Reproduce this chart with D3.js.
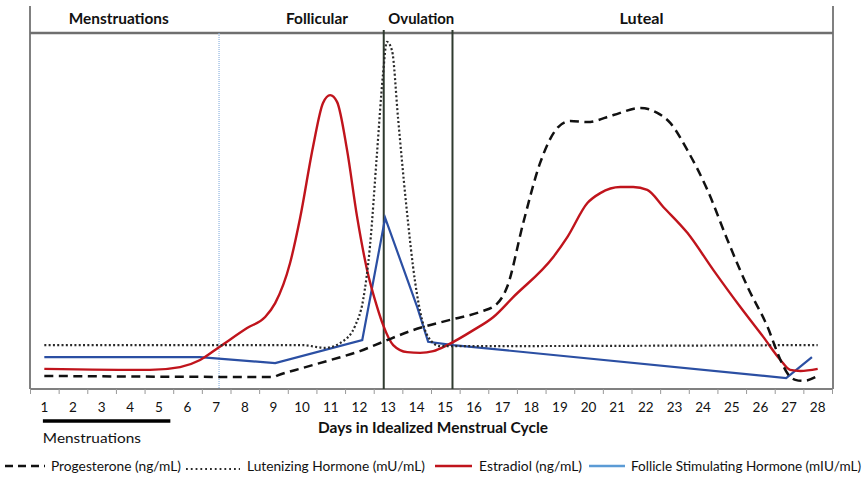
<!DOCTYPE html>
<html><head><meta charset="utf-8">
<script src="https://cdn.jsdelivr.net/npm/d3@7"></script>
<style>
html,body{margin:0;padding:0;background:#fff;}
svg{display:block;font-family:Lato,"Open Sans",Arial,sans-serif;}
</style></head>
<body>
<svg id="chart" width="865" height="479"></svg>
<script>
// ---- data ----
const dayTicks = d3.range(1, 29);
const phaseLabels = ["Menstruations", "Follicular", "Ovulation", "Luteal"];
const phaseLabelDays = [3.6, 10.52, 14.16, 21.85];
const phaseLineDays = [7.1, 12.85, 15.25];

const progDays   = [1, 9, 9.13, 10, 11, 12.02, 12.82, 13.87, 15.27, 16.2, 16.8, 17.16, 17.72, 18.31, 18.94, 19.36, 19.96, 20.87, 21.81, 22.4, 22.86, 23.45, 24.15, 24.85, 25.55, 26.25, 26.7, 26.98, 27.22, 27.5, 28];
const progValues = [3.4, 3.1, 3.5, 5.6, 7.9, 10.4, 13.0, 16.3, 19.4, 21.4, 23.7, 28.5, 46.5, 63.4, 73.5, 75.2, 74.9, 76.9, 78.9, 77.5, 74.6, 67.0, 55.8, 41.7, 28.5, 17.2, 7.9, 3.7, 2.3, 2.0, 3.4];

const lhDays   = [1, 10, 10.8, 11.43, 11.85, 12.13, 12.37, 12.61, 12.82, 12.96, 13.14, 13.35, 13.63, 13.95, 14.4, 14.82, 15.35, 28];
const lhValues = [12.1, 12.1, 11.3, 13.2, 17.5, 24.8, 40.0, 65.6, 88.0, 97.5, 95.0, 76.0, 52.0, 29.6, 14.4, 11.8, 11.8, 12.1];

const e2Days   = [1, 4.69, 5.74, 6.44, 7.1, 8.08, 8.71, 9.06, 9.58, 9.93, 10.38, 10.73, 10.98, 11.22, 11.57, 11.92, 12.27, 12.62, 12.83, 13.18, 13.67, 14.12, 14.58, 15.07, 15.98, 16.68, 17.37, 18.77, 19.26, 19.96, 20.41, 21.11, 21.56, 22.05, 22.61, 23.45, 24.36, 25.3, 26.1, 26.7, 27.04, 27.4, 28];
const e2Values = [5.4, 5.1, 5.9, 7.9, 11.5, 16.9, 20.0, 23.9, 35.2, 47.9, 67.9, 80.3, 82.5, 80.6, 67.0, 48.2, 33.2, 22.8, 17.7, 12.1, 10.1, 9.9, 10.4, 12.1, 16.3, 20.0, 25.6, 36.9, 42.5, 52.1, 54.9, 56.6, 56.6, 55.8, 51.0, 43.7, 33.2, 22.8, 14.4, 7.9, 5.1, 4.8, 5.4];

const fshDays   = [1, 6.44, 9.06, 12.1, 12.9, 14.02, 14.4, 15.27, 26.9, 27.8];
const fshValues = [8.7, 8.7, 7.0, 13.5, 47.9, 22.8, 13.0, 12.1, 2.8, 8.7];

const legendLabels = ["Progesterone (ng/mL)", "Lutenizing Hormone (mU/mL)", "Estradiol (ng/mL)", "Follicle Stimulating Hormone (mIU/mL)"];

// ---- layout ----
const svg = d3.select("#chart");
const plotLeft = 30, plotRight = 832, plotTop = 33, plotBottom = 389;
const x = d3.scaleLinear().domain([0.5, 28.5]).range([plotLeft, plotRight]);
const y = d3.scaleLinear().domain([0, 100]).range([plotBottom - 1, plotTop]);

const frameColor = "#808080";

// header & frame
svg.append("line").attr("x1", plotLeft).attr("x2", plotLeft).attr("y1", 6).attr("y2", plotBottom)
  .attr("stroke", frameColor).attr("stroke-width", 2);
svg.append("line").attr("x1", plotRight + 1).attr("x2", plotRight + 1).attr("y1", 6).attr("y2", plotBottom)
  .attr("stroke", frameColor).attr("stroke-width", 2);
svg.append("line").attr("x1", plotLeft).attr("x2", plotRight + 1).attr("y1", plotTop).attr("y2", plotTop)
  .attr("stroke", "#6f6f6f").attr("stroke-width", 2.5);

const phaseW = [100, 62, 66, 44];
svg.selectAll("text.phase").data(phaseLabels).join("text")
  .attr("class", "phase")
  .attr("x", (d, i) => x(phaseLabelDays[i]))
  .attr("y", 23.5)
  .attr("text-anchor", "middle")
  .attr("font-weight", "bold")
  .attr("font-size", 15)
  .attr("fill", "#111")
  .attr("textLength", (d, i) => phaseW[i]).attr("lengthAdjust", "spacingAndGlyphs")
  .text(d => d);

// x axis with ticks at band boundaries
const xAxis = d3.axisBottom(x)
  .tickValues(d3.range(0.5, 28.6, 1))
  .tickSize(5)
  .tickFormat("");
const gx = svg.append("g").attr("transform", `translate(0,${plotBottom})`).call(xAxis);
gx.select(".domain").attr("stroke", frameColor).attr("stroke-width", 2).attr("d", `M${plotLeft},0H${plotRight + 1}`);
gx.selectAll(".tick line").attr("stroke", "#999").attr("stroke-width", 1);

svg.append("g").selectAll("text").data(dayTicks).join("text")
  .attr("x", d => x(d)).attr("y", 412)
  .attr("text-anchor", "middle")
  .attr("font-size", 13.5)
  .attr("fill", "#111")
  .text(d => d);

// menstruation bar
svg.append("line").attr("x1", x(0.95)).attr("x2", x(5.4)).attr("y1", 421).attr("y2", 421)
  .attr("stroke", "#000").attr("stroke-width", 3.5);
svg.append("text").attr("x", x(0.95)).attr("y", 443).attr("font-size", 14).attr("fill", "#111")
  .attr("textLength", 98).attr("lengthAdjust", "spacingAndGlyphs")
  .text("Menstruations");
svg.append("text").attr("x", 433).attr("y", 433).attr("text-anchor", "middle")
  .attr("font-size", 14.5).attr("font-weight", "bold").attr("fill", "#111")
  .attr("textLength", 230).attr("lengthAdjust", "spacingAndGlyphs")
  .text("Days in Idealized Menstrual Cycle");

// phase lines
svg.append("g").selectAll("line").data(phaseLineDays).join("line")
  .attr("x1", d => x(d)).attr("x2", d => x(d))
  .attr("y1", (d, i) => i === 0 ? plotTop : plotTop - 3).attr("y2", plotBottom)
  .attr("stroke", (d, i) => i === 0 ? "#8fb4e0" : "#2f3a2f")
  .attr("stroke-width", (d, i) => i === 0 ? 1.2 : 2)
  .attr("stroke-dasharray", (d, i) => i === 0 ? "1,1" : null);

// series
const smooth = d3.line().curve(d3.curveMonotoneX);
const straight = d3.line();
const pts = (ds, vs) => ds.map((d, i) => [x(d), y(vs[i])]);

svg.append("path").attr("d", straight(pts(fshDays, fshValues)))
  .attr("fill", "none").attr("stroke", "#2b4fa3").attr("stroke-width", 2.2);
svg.append("path").attr("d", smooth(pts(e2Days, e2Values)))
  .attr("fill", "none").attr("stroke", "#c0141c").attr("stroke-width", 2.4);
svg.append("path").attr("d", smooth(pts(lhDays, lhValues)))
  .attr("fill", "none").attr("stroke", "#2a2a2a").attr("stroke-width", 2.2)
  .attr("stroke-dasharray", "2,2.3");
svg.append("path").attr("d", smooth(pts(progDays, progValues)))
  .attr("fill", "none").attr("stroke", "#111").attr("stroke-width", 2.5)
  .attr("stroke-dasharray", "9,5.5");

// legend
const ly = 466;
const legend = svg.append("g");
legend.append("line").attr("x1", 5).attr("x2", 45).attr("y1", ly).attr("y2", ly)
  .attr("stroke", "#111").attr("stroke-width", 2.5).attr("stroke-dasharray", "8,5");
legend.append("line").attr("x1", 186).attr("x2", 240).attr("y1", ly + 3).attr("y2", ly + 3)
  .attr("stroke", "#2a2a2a").attr("stroke-width", 1.8).attr("stroke-dasharray", "1.8,3");
legend.append("line").attr("x1", 435).attr("x2", 472).attr("y1", ly).attr("y2", ly)
  .attr("stroke", "#c0141c").attr("stroke-width", 2.5);
legend.append("line").attr("x1", 589).attr("x2", 625).attr("y1", ly).attr("y2", ly)
  .attr("stroke", "#5b9bd5").attr("stroke-width", 2.5);
const legX = [51, 247, 479, 631];
const legW = [130, 178, 103, 230];
legend.selectAll("text").data(legendLabels).join("text")
  .attr("x", (d, i) => legX[i]).attr("y", ly + 5)
  .attr("font-size", 13.5).attr("fill", "#111")
  .attr("textLength", (d, i) => legW[i]).attr("lengthAdjust", "spacingAndGlyphs")
  .text(d => d);
</script>
</body></html>
